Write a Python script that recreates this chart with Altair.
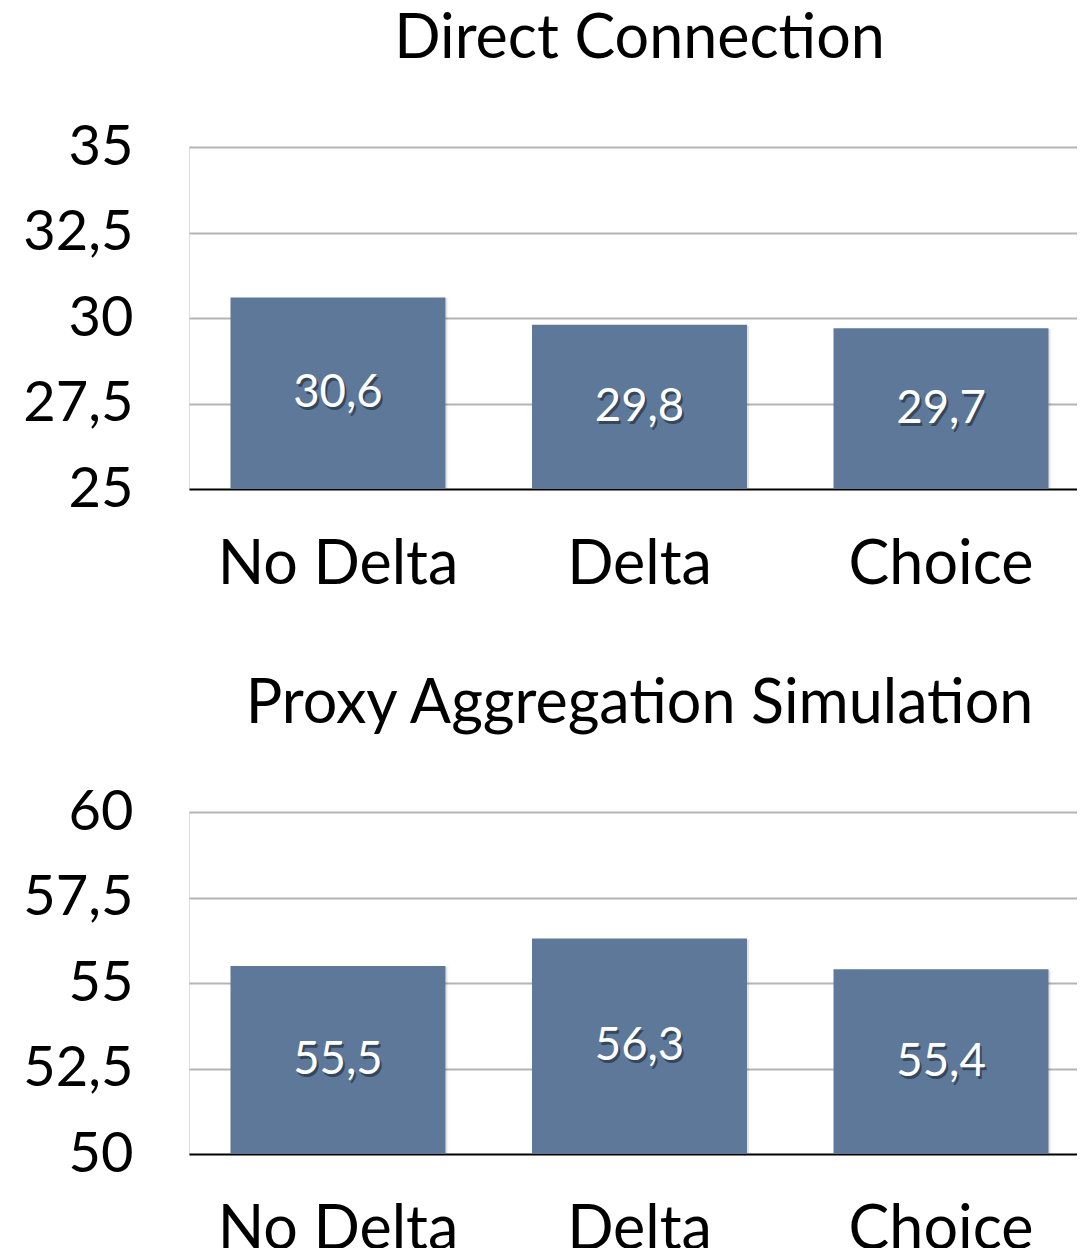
import altair as alt
import pandas as pd

categories = ["No Delta", "Delta", "Choice"]
direct_values = [30.6, 29.8, 29.7]
proxy_values = [55.5, 56.3, 55.4]
direct_ticks = [25, 27.5, 30, 32.5, 35]
proxy_ticks = [50, 52.5, 55, 57.5, 60]
titles = ["Direct Connection", "Proxy Aggregation Simulation"]

FONT = "Lato"
BAR_COLOR = "#5d7898"


def panel(title, values, ticks):
    lo, hi = ticks[0], ticks[-1]
    df = pd.DataFrame({"cat": categories, "value": values})
    df["base"] = lo
    df["mid"] = (df["value"] + df["base"]) / 2
    df["label"] = [f"{v:.1f}".replace(".", ",") for v in values]

    x = alt.X(
        "cat:N",
        sort=categories,
        title=None,
        scale=alt.Scale(paddingInner=0.287, paddingOuter=0.1376),
        axis=alt.Axis(
            labelAngle=0,
            labelFont=FONT,
            labelFontSize=61,
            labelColor="black",
            labelPadding=46,
            labelLimit=0,
            ticks=False,
            domain=False,
            grid=False,
        ),
    )
    yscale = alt.Scale(domain=[lo, hi], nice=False, zero=False)
    y = alt.Y(
        "value:Q",
        title=None,
        scale=yscale,
        axis=alt.Axis(
            values=ticks,
            labelExpr="replace(format(datum.value, '.1~f'), '.', ',')",
            labelFont=FONT,
            labelFontSize=56,
            labelColor="black",
            labelPadding=56,
            ticks=False,
            domain=False,
            grid=True,
            gridColor={"condition": {"test": f"datum.value === {lo}", "value": "black"}, "value": "#b4b4b4"},
            gridWidth=2,
            minExtent=180,
            maxExtent=180,
        ),
    )
    base = alt.Chart(df)
    bar_shadow = base.mark_bar(
        color="black", opacity=0.10, xOffset=2, yOffset=1, stroke="black", strokeWidth=5, strokeOpacity=0.06
    ).encode(x=x, y=y, y2="base:Q")
    bars = base.mark_bar(color=BAR_COLOR).encode(x=x, y=y, y2="base:Q")
    shadow = base.mark_text(
        font=FONT, fontSize=45.5, color="#14202e", opacity=0.55, dx=2, dy=3, baseline="middle"
    ).encode(x=alt.X("cat:N", sort=categories), y=alt.Y("mid:Q", scale=yscale), text="label:N")
    labels = base.mark_text(
        font=FONT, fontSize=45.5, color="white", baseline="middle"
    ).encode(x=alt.X("cat:N", sort=categories), y=alt.Y("mid:Q", scale=yscale), text="label:N")
    return alt.layer(bar_shadow, bars, shadow, labels).properties(
        width=901,
        height=342,
        title=alt.TitleParams(
            text=title,
            font=FONT,
            fontSize=61,
            fontWeight="normal",
            color="black",
            anchor="middle",
            frame="group",
            baseline="alphabetic",
            offset=0,
        ),
    )


top = panel(titles[0], direct_values, direct_ticks)
bottom = panel(titles[1], proxy_values, proxy_ticks)

chart = (
    alt.vconcat(top, bottom, spacing=77)
    .properties(padding={"left": 0, "top": 0, "right": -14, "bottom": 0})
    .configure_view(stroke=None)
    .configure(background="white")
)

chart.save("out.html", embed_options={"renderer": "svg", "actions": False})
